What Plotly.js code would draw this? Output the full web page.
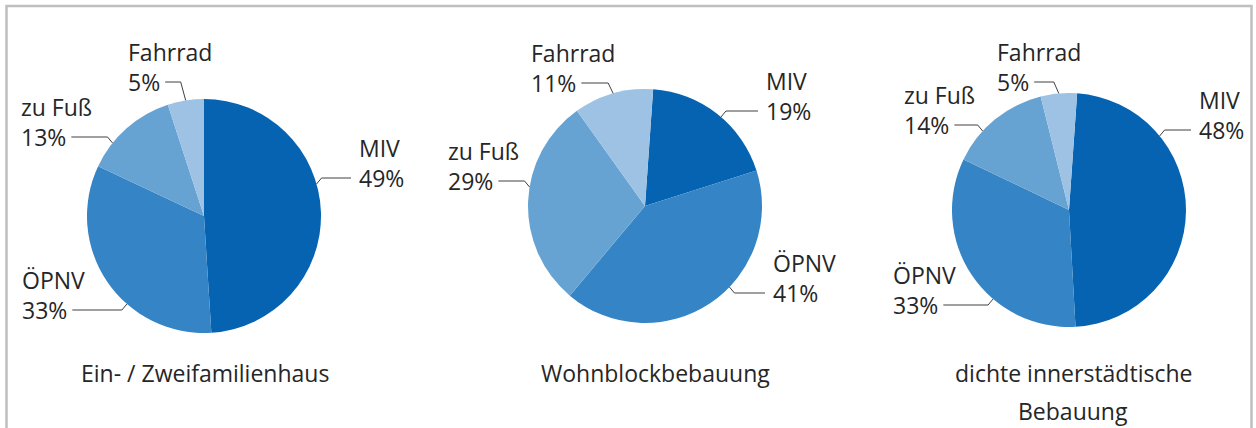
<!DOCTYPE html>
<html><head><meta charset="utf-8">
<script src="https://cdn.plot.ly/plotly-3.0.1.min.js"></script>
<style>html,body{margin:0;padding:0;background:#fff}</style>
</head><body><div id="chart" style="width:1256px;height:428px"></div>
<script>
// ---- data ----
const categories = ['MIV', 'ÖPNV', 'zu Fuß', 'Fahrrad'];
const pieTitles = ['Ein- / Zweifamilienhaus', 'Wohnblockbebauung', 'dichte innerstädtische\nBebauung'];
const shareEinZwei = [49, 33, 13, 5];
const shareWohnblock = [19, 41, 29, 11];
const shareInnerstadt = [48, 33, 14, 5];
const seriesValues = [shareEinZwei, shareWohnblock, shareInnerstadt];

// ---- styles / layout config ----
const colors = ['#0563B1', '#3584C5', '#67A3D2', '#9DC2E3'];
const W = 1256, H = 428;
const FONT = 'Open Sans';
const FS = 23;
const TXT = '#262626';
const LINE = '#404040';
// pie placement in px, label block offsets [left-x offset, percent-line y offset] from pie centre
const pieLayout = [
  {cx: 204, cy: 216, r: 117, rot: 0, titleDx: 1,  labels: [[154, -38], [-183, 94], [-184, -79], [-77, -134]]},
  {cx: 645, cy: 206, r: 117, rot: 4, titleDx: 10, labels: [[120, -95], [127, 87], [-198, -25], [-115, -123]]},
  {cx: 1069, cy: 210, r: 117, rot: 4, titleDx: 4, labels: [[129, -80], [-177, 95], [-166, -85], [-73, -128]]}
];
const titleY = 373, titleLineGap = 38, nameGap = 30;

const px = x => x / W;
const py = y => 1 - y / H;
const cv = document.createElement('canvas').getContext('2d');
cv.font = FS + 'px "' + FONT + '"';
const tw = s => cv.measureText(s).width;

const traces = [], annotations = [], shapes = [];

shapes.push({type: 'rect', xref: 'paper', yref: 'paper', x0: px(6.5), x1: px(1251.5), y0: -0.2, y1: py(6),
  line: {color: '#BFBFBF', width: 2.5}, fillcolor: 'rgba(0,0,0,0)'});

seriesValues.forEach((vals, i) => {
  const L = pieLayout[i];
  traces.push({
    type: 'pie', labels: categories, values: vals, sort: false, direction: 'clockwise',
    rotation: L.rot, textinfo: 'none', hoverinfo: 'skip',
    marker: {colors: colors, line: {width: 0}},
    domain: {x: [px(L.cx - L.r), px(L.cx + L.r)], y: [py(L.cy + L.r), py(L.cy - L.r)]},
    showlegend: false
  });
  const total = vals.reduce((a, b) => a + b, 0);
  let start = L.rot;
  vals.forEach((v, k) => {
    const a0 = start, a1 = start + v / total * 360;
    start = a1;
    const pct = Math.round(v / total * 100) + '%';
    const [dx, dy] = L.labels[k];
    const left = dx < 0;
    const tx = L.cx + dx, ty = L.cy + dy;
    annotations.push({xref: 'paper', yref: 'paper', x: px(tx), y: py(ty - nameGap), text: categories[k],
      showarrow: false, xanchor: 'left', yanchor: 'middle', borderpad: 0, font: {family: FONT, size: FS, color: TXT}});
    annotations.push({xref: 'paper', yref: 'paper', x: px(tx), y: py(ty), text: pct,
      showarrow: false, xanchor: 'left', yanchor: 'middle', borderpad: 0, font: {family: FONT, size: FS, color: TXT}});
    // anchor point on the slice edge
    const tgt = dy < 0 ? dy + 6 : dy - 6;
    let ang;
    if (Math.abs(tgt) < L.r * 0.97) {
      const base = Math.acos(-tgt / L.r) * 180 / Math.PI;
      ang = left ? 360 - base : base;
      while (ang < a0) ang += 360;
      while (ang > a1 + 360) ang -= 360;
      const lo = a0 + 3, hi = a1 - 3;
      if (ang < lo || ang > hi) ang = (a0 + a1) / 2;
    } else {
      ang = (a0 + a1) / 2;
    }
    const rad = ang * Math.PI / 180;
    const ax = L.cx + L.r * Math.sin(rad), ay = L.cy - L.r * Math.cos(rad);
    const ex = ax + (left ? -5 : 5);
    const sx = left ? tx + tw(pct) + 6 : tx - 7;
    shapes.push({type: 'path', xref: 'paper', yref: 'paper',
      path: `M${px(sx)},${py(ty)} L${px(ex)},${py(ty)} L${px(ax)},${py(ay)}`,
      line: {color: LINE, width: 1}});
  });
  pieTitles[i].split('\n').forEach((line, j) => {
    annotations.push({xref: 'paper', yref: 'paper', x: px(L.cx + L.titleDx), y: py(titleY + j * titleLineGap),
      text: line, showarrow: false, xanchor: 'center', yanchor: 'middle', font: {family: FONT, size: FS, color: TXT}});
  });
});

Plotly.newPlot('chart', traces, {
  width: W, height: H, margin: {l: 0, r: 0, t: 0, b: 0},
  paper_bgcolor: '#ffffff', plot_bgcolor: '#ffffff',
  annotations: annotations, shapes: shapes, showlegend: false
}, {staticPlot: true});
</script>
</body></html>
